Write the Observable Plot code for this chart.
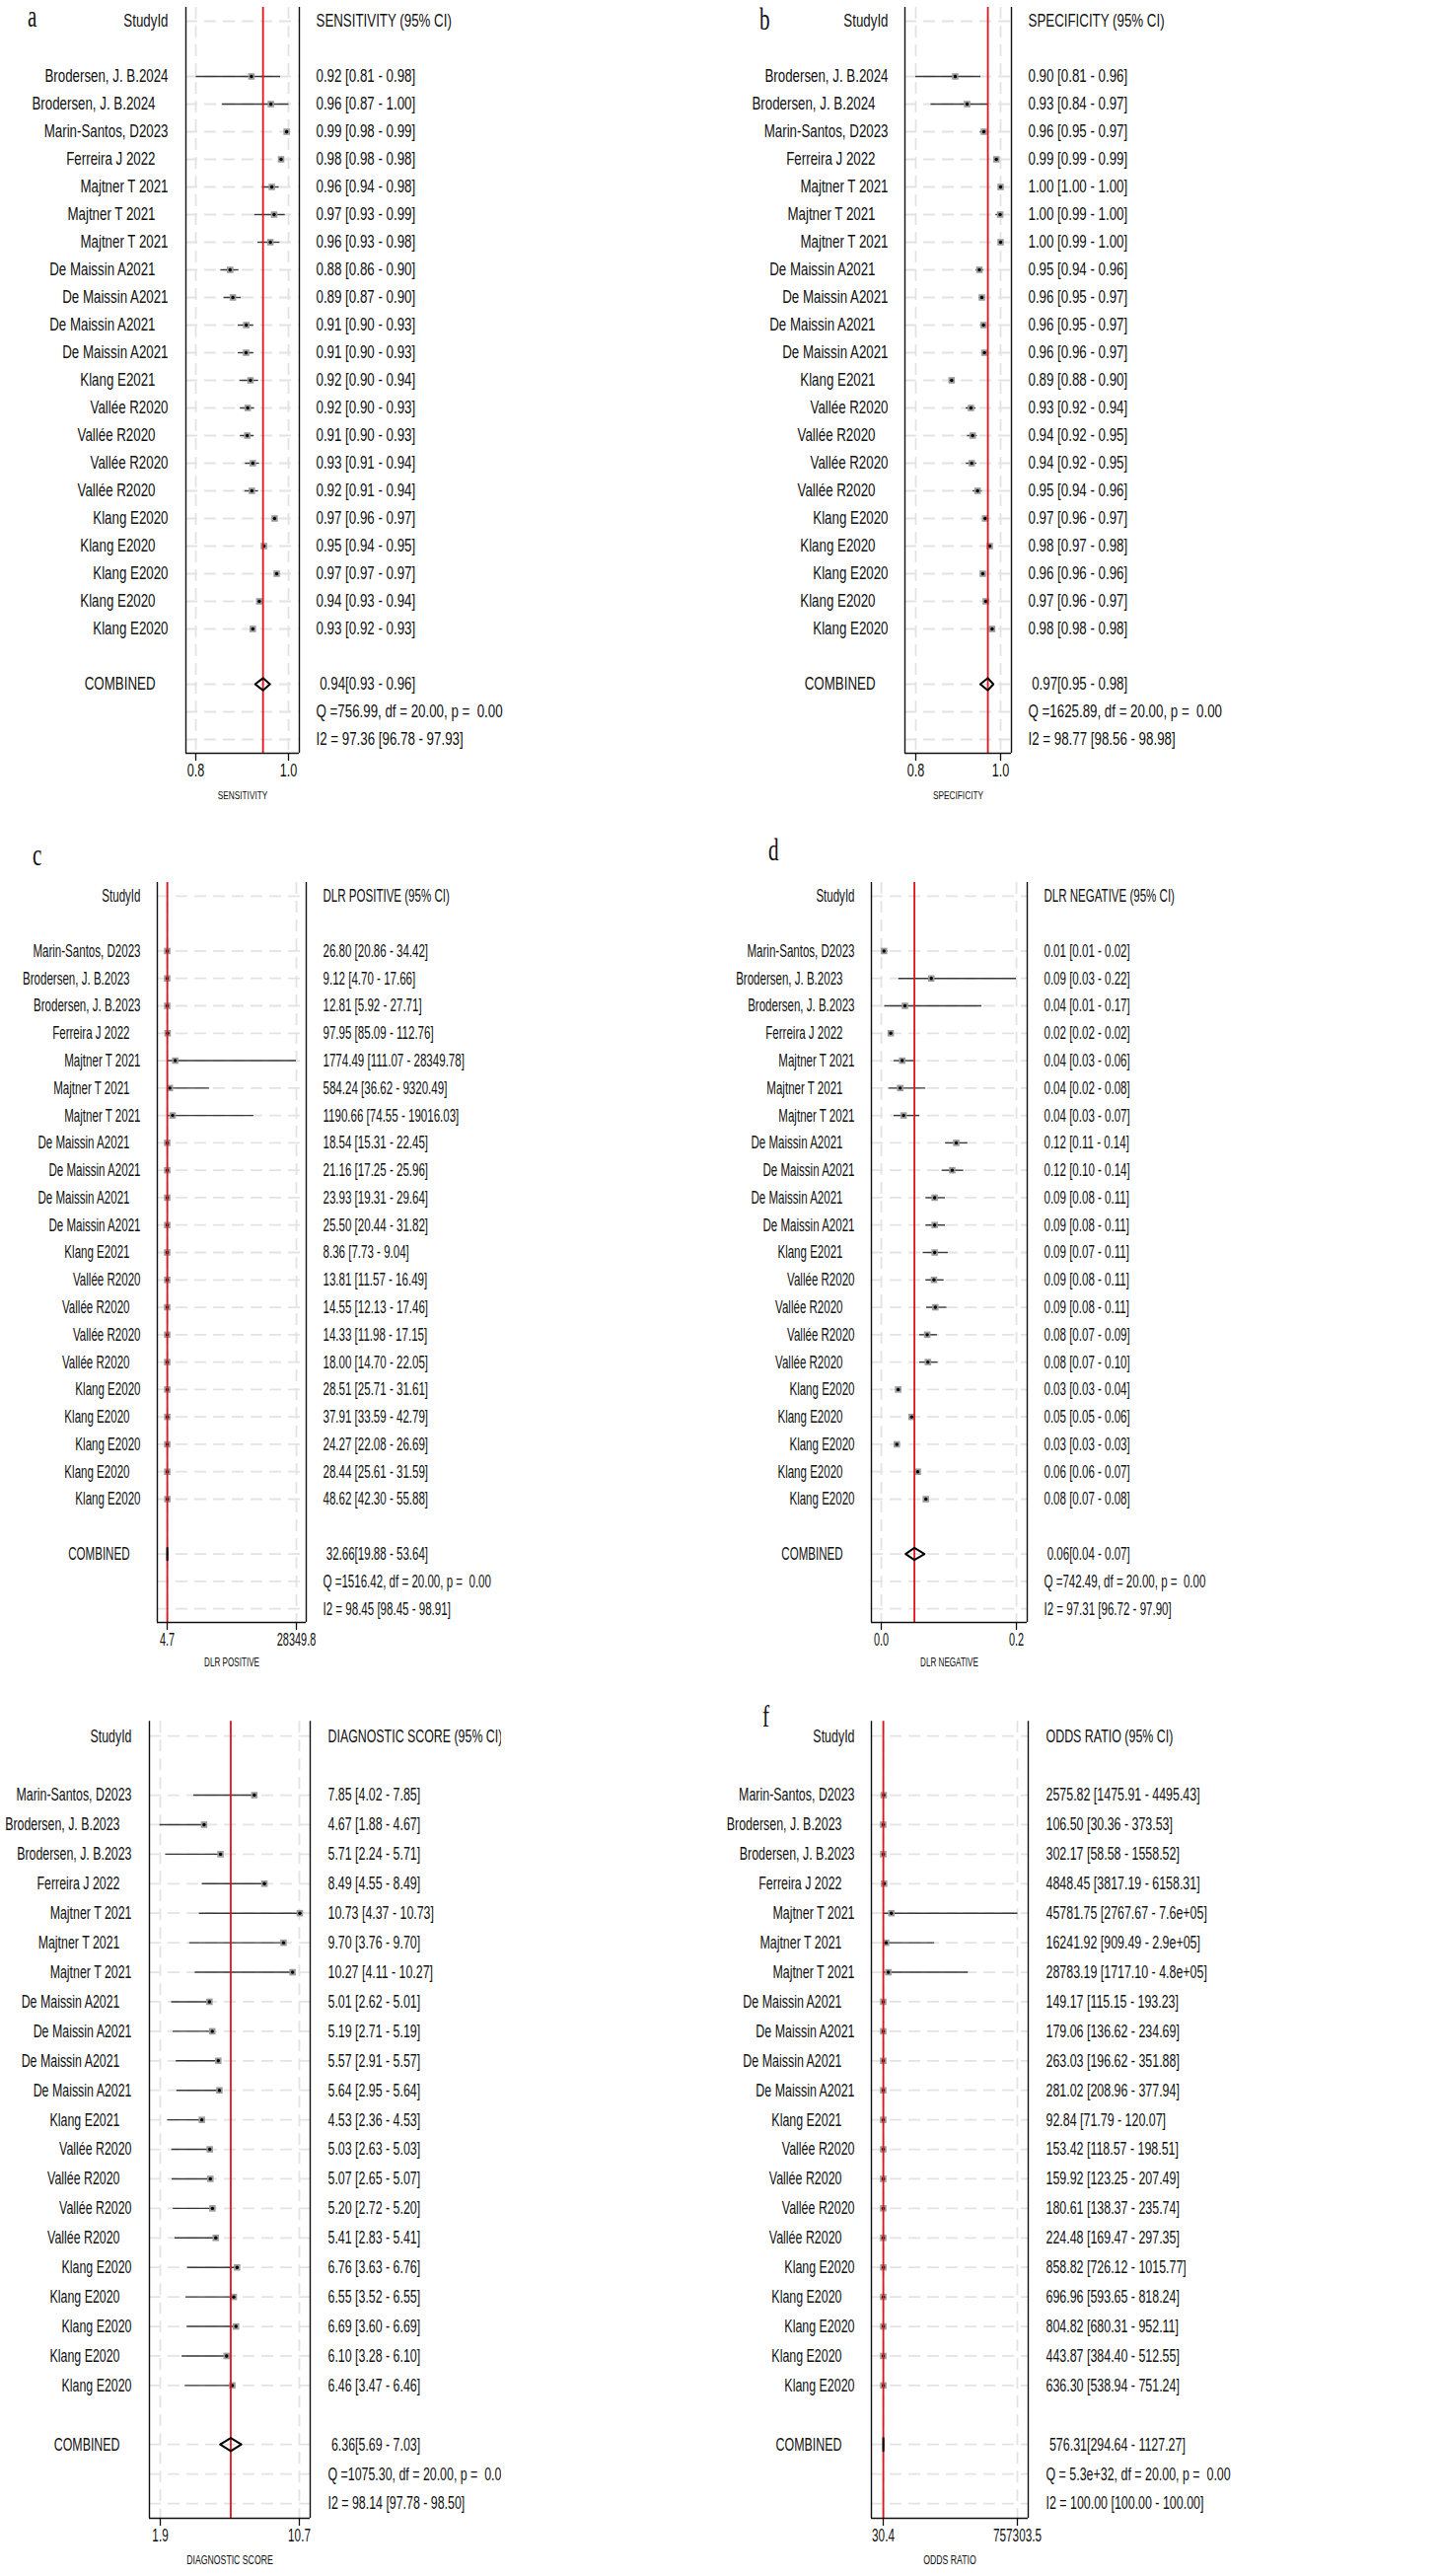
<!DOCTYPE html>
<html><head><meta charset="utf-8">
<script src="https://cdn.jsdelivr.net/npm/d3@7"></script>
<script src="https://cdn.jsdelivr.net/npm/@observablehq/plot@0.6"></script>
<style>
body{margin:0;background:#fff;}
#root{position:relative;width:1461px;height:2611px;overflow:hidden;background:#fff;}
.panel{position:absolute;overflow:hidden;}
.panel svg{max-width:none !important;}
</style></head><body><div id="root"></div>
<script>
// ---------- DATA ----------
const studiesAB = ["Brodersen, J. B.2024","Brodersen, J. B.2024","Marin-Santos, D2023","Ferreira J 2022","Majtner T 2021","Majtner T 2021","Majtner T 2021","De Maissin A2021","De Maissin A2021","De Maissin A2021","De Maissin A2021","Klang E2021","Vallée R2020","Vallée R2020","Vallée R2020","Vallée R2020","Klang E2020","Klang E2020","Klang E2020","Klang E2020","Klang E2020"];
const studiesCF = ["Marin-Santos, D2023","Brodersen, J. B.2023","Brodersen, J. B.2023","Ferreira J 2022","Majtner T 2021","Majtner T 2021","Majtner T 2021","De Maissin A2021","De Maissin A2021","De Maissin A2021","De Maissin A2021","Klang E2021","Vallée R2020","Vallée R2020","Vallée R2020","Vallée R2020","Klang E2020","Klang E2020","Klang E2020","Klang E2020","Klang E2020"];

// a: sensitivity
const sensEst = [0.920,0.962,0.996,0.984,0.964,0.969,0.961,0.874,0.880,0.909,0.9085,0.918,0.912,0.911,0.923,0.921,0.970,0.947,0.9745,0.937,0.923];
const sensLo  = [0.801,0.857,0.993,0.981,0.944,0.927,0.934,0.854,0.861,0.8915,0.8915,0.895,0.896,0.896,0.907,0.906,0.966,0.944,0.972,0.934,0.920];
const sensHi  = [0.983,1.001,0.999,0.987,0.980,0.993,0.9815,0.893,0.8985,0.925,0.925,0.9355,0.927,0.926,0.9376,0.9355,0.974,0.950,0.977,0.940,0.926];
const sensComb = [0.945,0.928,0.960];
const sensText = ["0.92 [0.81 - 0.98]","0.96 [0.87 - 1.00]","0.99 [0.98 - 0.99]","0.98 [0.98 - 0.98]","0.96 [0.94 - 0.98]","0.97 [0.93 - 0.99]","0.96 [0.93 - 0.98]","0.88 [0.86 - 0.90]","0.89 [0.87 - 0.90]","0.91 [0.90 - 0.93]","0.91 [0.90 - 0.93]","0.92 [0.90 - 0.94]","0.92 [0.90 - 0.93]","0.91 [0.90 - 0.93]","0.93 [0.91 - 0.94]","0.92 [0.91 - 0.94]","0.97 [0.96 - 0.97]","0.95 [0.94 - 0.95]","0.97 [0.97 - 0.97]","0.94 [0.93 - 0.94]","0.93 [0.92 - 0.93]"];
const sensSummary = [" 0.94[0.93 - 0.96]","Q =756.99, df = 20.00, p =  0.00","I2 = 97.36 [96.78 - 97.93]"];

// b: specificity
const specEst = [0.893,0.921,0.9605,0.990,1.000,0.999,1.000,0.950,0.9558,0.9597,0.962,0.8845,0.930,0.934,0.9318,0.9457,0.9635,0.9744,0.958,0.965,0.980];
const specLo  = [0.800,0.836,0.952,0.988,0.998,0.989,0.996,0.942,0.949,0.953,0.956,0.881,0.9186,0.922,0.919,0.935,0.961,0.971,0.955,0.962,0.977];
const specHi  = [0.9535,0.970,0.967,0.992,1.000,1.000,1.000,0.960,0.963,0.966,0.968,0.888,0.9419,0.945,0.944,0.9566,0.966,0.978,0.961,0.968,0.983];
const specComb = [0.970,0.952,0.983];
const specText = ["0.90 [0.81 - 0.96]","0.93 [0.84 - 0.97]","0.96 [0.95 - 0.97]","0.99 [0.99 - 0.99]","1.00 [1.00 - 1.00]","1.00 [0.99 - 1.00]","1.00 [0.99 - 1.00]","0.95 [0.94 - 0.96]","0.96 [0.95 - 0.97]","0.96 [0.95 - 0.97]","0.96 [0.96 - 0.97]","0.89 [0.88 - 0.90]","0.93 [0.92 - 0.94]","0.94 [0.92 - 0.95]","0.94 [0.92 - 0.95]","0.95 [0.94 - 0.96]","0.97 [0.96 - 0.97]","0.98 [0.97 - 0.98]","0.96 [0.96 - 0.96]","0.97 [0.96 - 0.97]","0.98 [0.98 - 0.98]"];
const specSummary = [" 0.97[0.95 - 0.98]","Q =1625.89, df = 20.00, p =  0.00","I2 = 98.77 [98.56 - 98.98]"];

// c: DLR positive
const dlrpEst = [26.80,9.12,12.81,97.95,1774.49,584.24,1190.66,18.54,21.16,23.93,25.50,8.36,13.81,14.55,14.33,18.00,28.51,37.91,24.27,28.44,48.62];
const dlrpLo  = [20.86,4.70,5.92,85.09,111.07,36.62,74.55,15.31,17.25,19.31,20.44,7.73,11.57,12.13,11.98,14.70,25.71,33.59,22.08,25.61,42.30];
const dlrpHi  = [34.42,17.66,27.71,112.76,28349.78,9320.49,19016.03,22.45,25.96,29.64,31.82,9.04,16.49,17.46,17.15,22.05,31.61,42.79,26.69,31.59,55.88];
const dlrpComb = [32.66,19.88,53.64];
const dlrpText = ["26.80 [20.86 - 34.42]","9.12 [4.70 - 17.66]","12.81 [5.92 - 27.71]","97.95 [85.09 - 112.76]","1774.49 [111.07 - 28349.78]","584.24 [36.62 - 9320.49]","1190.66 [74.55 - 19016.03]","18.54 [15.31 - 22.45]","21.16 [17.25 - 25.96]","23.93 [19.31 - 29.64]","25.50 [20.44 - 31.82]","8.36 [7.73 - 9.04]","13.81 [11.57 - 16.49]","14.55 [12.13 - 17.46]","14.33 [11.98 - 17.15]","18.00 [14.70 - 22.05]","28.51 [25.71 - 31.61]","37.91 [33.59 - 42.79]","24.27 [22.08 - 26.69]","28.44 [25.61 - 31.59]","48.62 [42.30 - 55.88]"];
const dlrpSummary = [" 32.66[19.88 - 53.64]","Q =1516.42, df = 20.00, p =  0.00","I2 = 98.45 [98.45 - 98.91]"];

// d: DLR negative
const dlrnEst = [0.004,0.074,0.035,0.014,0.031,0.028,0.033,0.111,0.105,0.079,0.079,0.079,0.078,0.080,0.068,0.069,0.025,0.045,0.023,0.054,0.066];
const dlrnLo  = [0.003,0.026,0.005,0.013,0.019,0.011,0.019,0.095,0.090,0.066,0.066,0.062,0.066,0.067,0.057,0.057,0.023,0.043,0.021,0.051,0.063];
const dlrnHi  = [0.010,0.200,0.149,0.016,0.049,0.066,0.057,0.128,0.122,0.095,0.095,0.099,0.093,0.097,0.083,0.084,0.028,0.048,0.025,0.057,0.070];
const dlrnComb = [0.049,0.036,0.064];
const dlrnText = ["0.01 [0.01 - 0.02]","0.09 [0.03 - 0.22]","0.04 [0.01 - 0.17]","0.02 [0.02 - 0.02]","0.04 [0.03 - 0.06]","0.04 [0.02 - 0.08]","0.04 [0.03 - 0.07]","0.12 [0.11 - 0.14]","0.12 [0.10 - 0.14]","0.09 [0.08 - 0.11]","0.09 [0.08 - 0.11]","0.09 [0.07 - 0.11]","0.09 [0.08 - 0.11]","0.09 [0.08 - 0.11]","0.08 [0.07 - 0.09]","0.08 [0.07 - 0.10]","0.03 [0.03 - 0.04]","0.05 [0.05 - 0.06]","0.03 [0.03 - 0.03]","0.06 [0.06 - 0.07]","0.08 [0.07 - 0.08]"];
const dlrnSummary = [" 0.06[0.04 - 0.07]","Q =742.49, df = 20.00, p =  0.00","I2 = 97.31 [96.72 - 97.90]"];

// e: diagnostic score
const dsEst = [7.85,4.67,5.71,8.49,10.73,9.70,10.27,5.01,5.19,5.57,5.64,4.53,5.03,5.07,5.20,5.41,6.76,6.55,6.69,6.10,6.46];
const dsLo  = [4.02,1.88,2.24,4.55,4.37,3.76,4.11,2.62,2.71,2.91,2.95,2.36,2.63,2.65,2.72,2.83,3.63,3.52,3.60,3.28,3.47];
const dsHi  = [7.85,4.67,5.71,8.49,10.73,9.70,10.27,5.01,5.19,5.57,5.64,4.53,5.03,5.07,5.20,5.41,6.76,6.55,6.69,6.10,6.46];
const dsComb = [6.36,5.69,7.03];
const dsText = ["7.85 [4.02 - 7.85]","4.67 [1.88 - 4.67]","5.71 [2.24 - 5.71]","8.49 [4.55 - 8.49]","10.73 [4.37 - 10.73]","9.70 [3.76 - 9.70]","10.27 [4.11 - 10.27]","5.01 [2.62 - 5.01]","5.19 [2.71 - 5.19]","5.57 [2.91 - 5.57]","5.64 [2.95 - 5.64]","4.53 [2.36 - 4.53]","5.03 [2.63 - 5.03]","5.07 [2.65 - 5.07]","5.20 [2.72 - 5.20]","5.41 [2.83 - 5.41]","6.76 [3.63 - 6.76]","6.55 [3.52 - 6.55]","6.69 [3.60 - 6.69]","6.10 [3.28 - 6.10]","6.46 [3.47 - 6.46]"];
const dsSummary = [" 6.36[5.69 - 7.03]","Q =1075.30, df = 20.00, p =  0.00","I2 = 98.14 [97.78 - 98.50]"];

// f: odds ratio
const orEst = [2575.82,106.50,302.17,4848.45,45781.75,16241.92,28783.19,149.17,179.06,263.03,281.02,92.84,153.42,159.92,180.61,224.48,858.82,696.96,804.82,443.87,636.30];
const orLo  = [1475.91,30.36,58.58,3817.19,2767.67,909.49,1717.10,115.15,136.62,196.62,208.96,71.79,118.57,123.25,138.37,169.47,726.12,593.65,680.31,384.40,538.94];
const orHi  = [4495.43,373.53,1558.52,6158.31,760000,290000,480000,193.23,234.69,351.88,377.94,120.07,198.51,207.49,235.74,297.35,1015.77,818.24,952.11,512.55,751.24];
const orComb = [576.31,294.64,1127.27];
const orText = ["2575.82 [1475.91 - 4495.43]","106.50 [30.36 - 373.53]","302.17 [58.58 - 1558.52]","4848.45 [3817.19 - 6158.31]","45781.75 [2767.67 - 7.6e+05]","16241.92 [909.49 - 2.9e+05]","28783.19 [1717.10 - 4.8e+05]","149.17 [115.15 - 193.23]","179.06 [136.62 - 234.69]","263.03 [196.62 - 351.88]","281.02 [208.96 - 377.94]","92.84 [71.79 - 120.07]","153.42 [118.57 - 198.51]","159.92 [123.25 - 207.49]","180.61 [138.37 - 235.74]","224.48 [169.47 - 297.35]","858.82 [726.12 - 1015.77]","696.96 [593.65 - 818.24]","804.82 [680.31 - 952.11]","443.87 [384.40 - 512.55]","636.30 [538.94 - 751.24]"];
const orSummary = [" 576.31[294.64 - 1127.27]","Q = 5.3e+32, df = 20.00, p =  0.00","I2 = 100.00 [100.00 - 100.00]"];

const ticksA = [0.8, 1.0], ticksB = [0.8, 1.0], ticksC = [4.7, 28349.8], ticksD = [0.0, 0.2], ticksE = [1.9, 10.7], ticksF = [30.4, 757303.5];
const headers = ["SENSITIVITY (95% CI)","SPECIFICITY (95% CI)","DLR POSITIVE (95% CI)","DLR NEGATIVE (95% CI)","DIAGNOSTIC SCORE (95% CI)","ODDS RATIO (95% CI)"];
const axisTitles = ["SENSITIVITY","SPECIFICITY","DLR POSITIVE","DLR NEGATIVE","DIAGNOSTIC SCORE","ODDS RATIO"];
const letters = ["a","b","c","d","f"];

// ---------- DRAW ----------
const FONT = "'Liberation Sans', Arial, Helvetica, sans-serif";

function condense(svg, k) {
  svg.querySelectorAll("text").forEach(t => {
    let tr = t.getAttribute("transform") || "";
    const x = +t.getAttribute("x") || 0;
    if (x) { tr += ` translate(${x},0)`; t.removeAttribute("x"); }
    t.setAttribute("transform", `${tr} scale(${k},1)`);
  });
}

function panel(c) {
  const rows = c.studies.map((s, i) => ({i: i + 1, s, est: c.est[i], lo: c.lo[i], hi: c.hi[i], txt: c.text[i]}));
  const [ce, cl, ch] = c.comb;
  const H = 0.22;
  const diamond = [{x: cl, y: 23}, {x: ce, y: 23 - H}, {x: ch, y: 23}, {x: ce, y: 23 + H}, {x: cl, y: 23}];
  const gridRows = [-1, ...d3.range(1, 22), 23, 24, 25];
  const extra = [{y: 23, t: c.summary[0]}, {y: 24, t: c.summary[1]}, {y: 25, t: c.summary[2]}, {y: -1, t: c.header}];
  const fs = 18.5;
  const grid = {stroke: "#e3e3e3", strokeWidth: 1.8, strokeDasharray: "12,7"};
  const svg = Plot.plot({
    width: c.width, height: c.height,
    marginLeft: c.frameL, marginRight: c.width - c.frameR,
    marginTop: c.top, marginBottom: c.height - c.bottom,
    style: {fontFamily: FONT, color: "#111", background: "#fff", maxWidth: "none"},
    x: {domain: c.xdomain},
    y: {domain: [-1.5, 25.5], range: [c.top, c.bottom], axis: null},
    marks: [
      Plot.ruleY(gridRows, {y: d => d, ...grid}),
      Plot.ruleX(c.ticks, {x: d => d, ...grid}),
      Plot.ruleY(rows, {y: "i", x1: "lo", x2: "hi", stroke: "#3a3a3a", strokeWidth: 1.4}),
      Plot.dot(rows, {x: "est", y: "i", symbol: "square", r: 3.7, fill: "#9b9b9b"}),
      Plot.dot(rows, {x: "est", y: "i", r: 1.7, fill: "#000"}),
      Plot.ruleX([ce], {x: d => d, stroke: "#e3121b", strokeWidth: 1.8}),
      Plot.line(diamond, {x: "x", y: "y", stroke: "#000", strokeWidth: 2}),
      Plot.ruleX(c.xdomain, {x: d => d, stroke: "#111", strokeWidth: 1.4}),
      Plot.ruleY([25.5], {y: d => d, stroke: "#111", strokeWidth: 1.4}),
      Plot.axisX(c.ticks, {tickFormat: c.fmt, tickSize: 8, tickPadding: 3, fontSize: 17.5, stroke: "#111", strokeWidth: 1.3, fill: "#111", label: null}),
      Plot.text([c.axisTitle], {text: d => d, frameAnchor: "bottom", dy: c.titleDy, fontSize: c.titleFs, fill: "#111"}),
      Plot.text(rows.filter(r => r.i % 2 === 1), {y: "i", text: "s", frameAnchor: "left", textAnchor: "end", dx: c.dxOdd, fontSize: fs, fill: "#111"}),
      Plot.text(rows.filter(r => r.i % 2 === 0), {y: "i", text: "s", frameAnchor: "left", textAnchor: "end", dx: c.dxEven, fontSize: fs, fill: "#111"}),
      Plot.text([{y: -1, t: "StudyId"}], {y: "y", text: "t", frameAnchor: "left", textAnchor: "end", dx: c.dxOdd, fontSize: fs, fill: "#111"}),
      Plot.text([{y: 23, t: "COMBINED"}], {y: "y", text: "t", frameAnchor: "left", textAnchor: "end", dx: c.dxEven, fontSize: fs, fill: "#111"}),
      Plot.text(rows, {y: "i", text: "txt", frameAnchor: "right", textAnchor: "start", dx: c.dxStat, fontSize: fs, fill: "#111"}),
      Plot.text(extra, {y: "y", text: "t", frameAnchor: "right", textAnchor: "start", dx: c.dxStat, fontSize: fs, fill: "#111"})
    ]
  });
  svg.style.maxWidth = "none";
  condense(svg, c.squeeze);
  const div = document.createElement("div");
  div.className = "panel";
  div.style.left = c.left + "px";
  div.style.top = c.topPx + "px";
  div.style.width = (c.clipW || c.width) + "px";
  div.style.height = c.height + "px";
  div.appendChild(svg);
  document.getElementById("root").appendChild(div);
}

const f1 = d => d.toFixed(1);
const fr = d => String(d);

panel({left: 0, topPx: 0, width: 730, height: 850, frameL: 188, frameR: 303, top: 7, bottom: 763, titleDy: 46, titleFs: 11.5, squeeze: 0.72,
  xdomain: [0.7787, 1.0234], ticks: ticksA, fmt: f1, studies: studiesAB, est: sensEst, lo: sensLo, hi: sensHi, comb: sensComb,
  text: sensText, summary: sensSummary, header: headers[0], axisTitle: axisTitles[0], dxOdd: -18, dxEven: -31, dxStat: 17});
panel({left: 730, topPx: 0, width: 731, height: 850, frameL: 187, frameR: 295, top: 7, bottom: 763, titleDy: 46, titleFs: 11.5, squeeze: 0.72,
  xdomain: [0.7744, 1.0256], ticks: ticksB, fmt: f1, studies: studiesAB, est: specEst, lo: specLo, hi: specHi, comb: specComb,
  text: specText, summary: specSummary, header: headers[1], axisTitle: axisTitles[1], dxOdd: -17, dxEven: -30, dxStat: 17});
panel({left: 0, topPx: 860, width: 730, height: 870, frameL: 159, frameR: 310, top: 34, bottom: 784, titleDy: 44, titleFs: 13, squeeze: 0.625,
  xdomain: [-2159, 30513.5], ticks: ticksC, fmt: fr, studies: studiesCF, est: dlrpEst, lo: dlrpLo, hi: dlrpHi, comb: dlrpComb,
  text: dlrpText, summary: dlrpSummary, header: headers[2], axisTitle: axisTitles[2], dxOdd: -17, dxEven: -28, dxStat: 17});
panel({left: 730, topPx: 860, width: 731, height: 870, frameL: 153, frameR: 311, top: 34, bottom: 784, titleDy: 44, titleFs: 13, squeeze: 0.624,
  xdomain: [-0.0146, 0.216], ticks: ticksD, fmt: f1, studies: studiesCF, est: dlrnEst, lo: dlrnLo, hi: dlrnHi, comb: dlrnComb,
  text: dlrnText, summary: dlrnSummary, header: headers[3], axisTitle: axisTitles[3], dxOdd: -17, dxEven: -29, dxStat: 17});
panel({left: 0, topPx: 1730, width: 730, clipW: 508, height: 881, frameL: 151, frameR: 314, top: 14.25, bottom: 822, titleDy: 46, titleFs: 13, squeeze: 0.67,
  xdomain: [1.213, 11.387], ticks: ticksE, fmt: fr, studies: studiesCF, est: dsEst, lo: dsLo, hi: dsHi, comb: dsComb,
  text: dsText, summary: dsSummary, header: headers[4], axisTitle: axisTitles[4], dxOdd: -18, dxEven: -30, dxStat: 18});
panel({left: 730, topPx: 1730, width: 731, height: 881, frameL: 153, frameR: 312, top: 14.25, bottom: 822, titleDy: 46, titleFs: 13, squeeze: 0.672,
  xdomain: [-66788, 818553], ticks: ticksF, fmt: fr, studies: studiesCF, est: orEst, lo: orLo, hi: orHi, comb: orComb,
  text: orText, summary: orSummary, header: headers[5], axisTitle: axisTitles[5], dxOdd: -17, dxEven: -30, dxStat: 18});

// panel letters
const letterPos = [[28, 27], [770, 30], [33, 877], [779, 872], [773, 1750]];
const overlay = d3.create("svg").attr("width", 1461).attr("height", 2611)
  .style("position", "absolute").style("left", "0px").style("top", "0px").style("pointer-events", "none");
overlay.selectAll("text").data(letters).join("text")
  .attr("transform", (d, i) => `translate(${letterPos[i][0]},${letterPos[i][1]}) scale(0.66,1)`)
  .attr("font-family", "'Liberation Serif', 'Times New Roman', serif").attr("font-size", 32).attr("fill", "#111")
  .text(d => d);
document.getElementById("root").appendChild(overlay.node());
</script></body></html>
